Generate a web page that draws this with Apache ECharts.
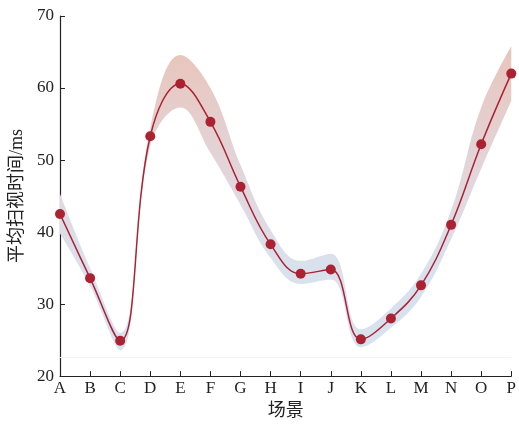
<!DOCTYPE html>
<html>
<head>
<meta charset="utf-8">
<script src="https://cdn.jsdelivr.net/npm/echarts@6/dist/echarts.min.js"></script>
<style>
  html, body { margin: 0; padding: 0; background: #fff; }
  #chart { width: 519px; height: 425px; }
</style>
</head>
<body>
<div id="chart"></div>
<script>
// 场景
var categories = ['A', 'B', 'C', 'D', 'E', 'F', 'G', 'H', 'I', 'J', 'K', 'L', 'M', 'N', 'O', 'P']
// 平均扫视时间
var meanValues = [42.5, 33.6, 24.9, 53.3, 60.6, 55.3, 46.3, 38.3, 34.2, 34.8, 25.1, 28.0, 32.6, 41.0, 52.2, 62.0]
// 置信带
var bandLower = [39.8, 32.5, 23.6, 52.0, 57.3, 51.0, 43.8, 36.4, 32.8, 33.4, 24.0, 26.7, 31.0, 39.0, 48.8, 58.2]
var bandUpper = [45.3, 35.0, 26.0, 54.5, 64.6, 60.0, 49.3, 40.3, 36.0, 37.0, 26.5, 29.4, 34.2, 43.0, 57.3, 65.8]
var yTicks = [20, 30, 40, 50, 60, 70]

var bandDiff = bandUpper.map(function (v, i) {
  return +(v - bandLower[i]).toFixed(2)
})

var serifFont = '"Liberation Serif", "DejaVu Serif", serif'
var nameFont = '"Liberation Serif", "Noto Sans CJK SC", serif'

var myChart = echarts.init(document.getElementById('chart'))

var option = {
  animation: false,
  grid: {
    left: 59,
    right: 7,
    top: 16,
    bottom: 46,
  },
  xAxis: {
    type: 'category',
    data: categories,
    boundaryGap: false,
    name: '场景',
    nameLocation: 'middle',
    nameGap: 25,
    nameTextStyle: {
      color: '#222',
      fontSize: 18,
      fontFamily: nameFont,
    },
    axisLine: {
      show: true,
      lineStyle: { color: '#222', width: 1.2 },
    },
    axisTick: {
      show: true,
      inside: true,
      length: 5,
      alignWithLabel: true,
      lineStyle: { color: '#222' },
    },
    axisLabel: {
      color: '#222',
      fontSize: 17,
      fontFamily: serifFont,
      margin: 4,
    },
    splitLine: { show: false },
  },
  yAxis: {
    type: 'value',
    min: yTicks[0],
    max: yTicks[yTicks.length - 1],
    interval: 10,
    name: '平均扫视时间/ms',
    nameLocation: 'middle',
    nameRotate: 90,
    nameGap: 34,
    nameTextStyle: {
      color: '#222',
      fontSize: 18,
      fontFamily: nameFont,
    },
    axisLine: {
      show: true,
      lineStyle: { color: '#222', width: 1.2 },
    },
    axisTick: {
      show: true,
      inside: true,
      length: 5,
      lineStyle: { color: '#222' },
    },
    axisLabel: {
      color: '#222',
      fontSize: 17,
      fontFamily: serifFont,
      margin: 6,
    },
    splitLine: { show: false },
  },
  series: [
    {
      name: 'lower',
      type: 'line',
      data: bandLower,
      stack: 'band',
      smooth: 0.4,
      symbol: 'none',
      silent: true,
      lineStyle: { opacity: 0 },
      markLine: {
        silent: true,
        symbol: 'none',
        label: { show: false },
        lineStyle: { color: '#f4f4f4', width: 1, type: 'solid' },
        data: [{ yAxis: 22.6 }],
      },
      z: 1,
    },
    {
      name: 'band',
      type: 'line',
      data: bandDiff,
      stack: 'band',
      smooth: 0.4,
      symbol: 'none',
      silent: true,
      lineStyle: { opacity: 0 },
      areaStyle: {
        opacity: 1,
        color: {
          type: 'linear',
          x: 0,
          y: 40,
          x2: 0,
          y2: 360,
          global: true,
          colorStops: [
            { offset: 0, color: '#e9c4b9' },
            { offset: 0.45, color: '#e1d7de' },
            { offset: 0.7, color: '#d9e1ec' },
            { offset: 1, color: '#d6e3f0' },
          ],
        },
      },
      z: 2,
    },
    {
      name: '平均扫视时间',
      type: 'line',
      data: meanValues,
      smooth: 0.4,
      symbol: 'circle',
      symbolSize: 10,
      itemStyle: { color: '#ab2232' },
      lineStyle: { color: '#ab2232', width: 1.5 },
      z: 3,
    },
  ],
}

myChart.setOption(option)
</script>
</body>
</html>
